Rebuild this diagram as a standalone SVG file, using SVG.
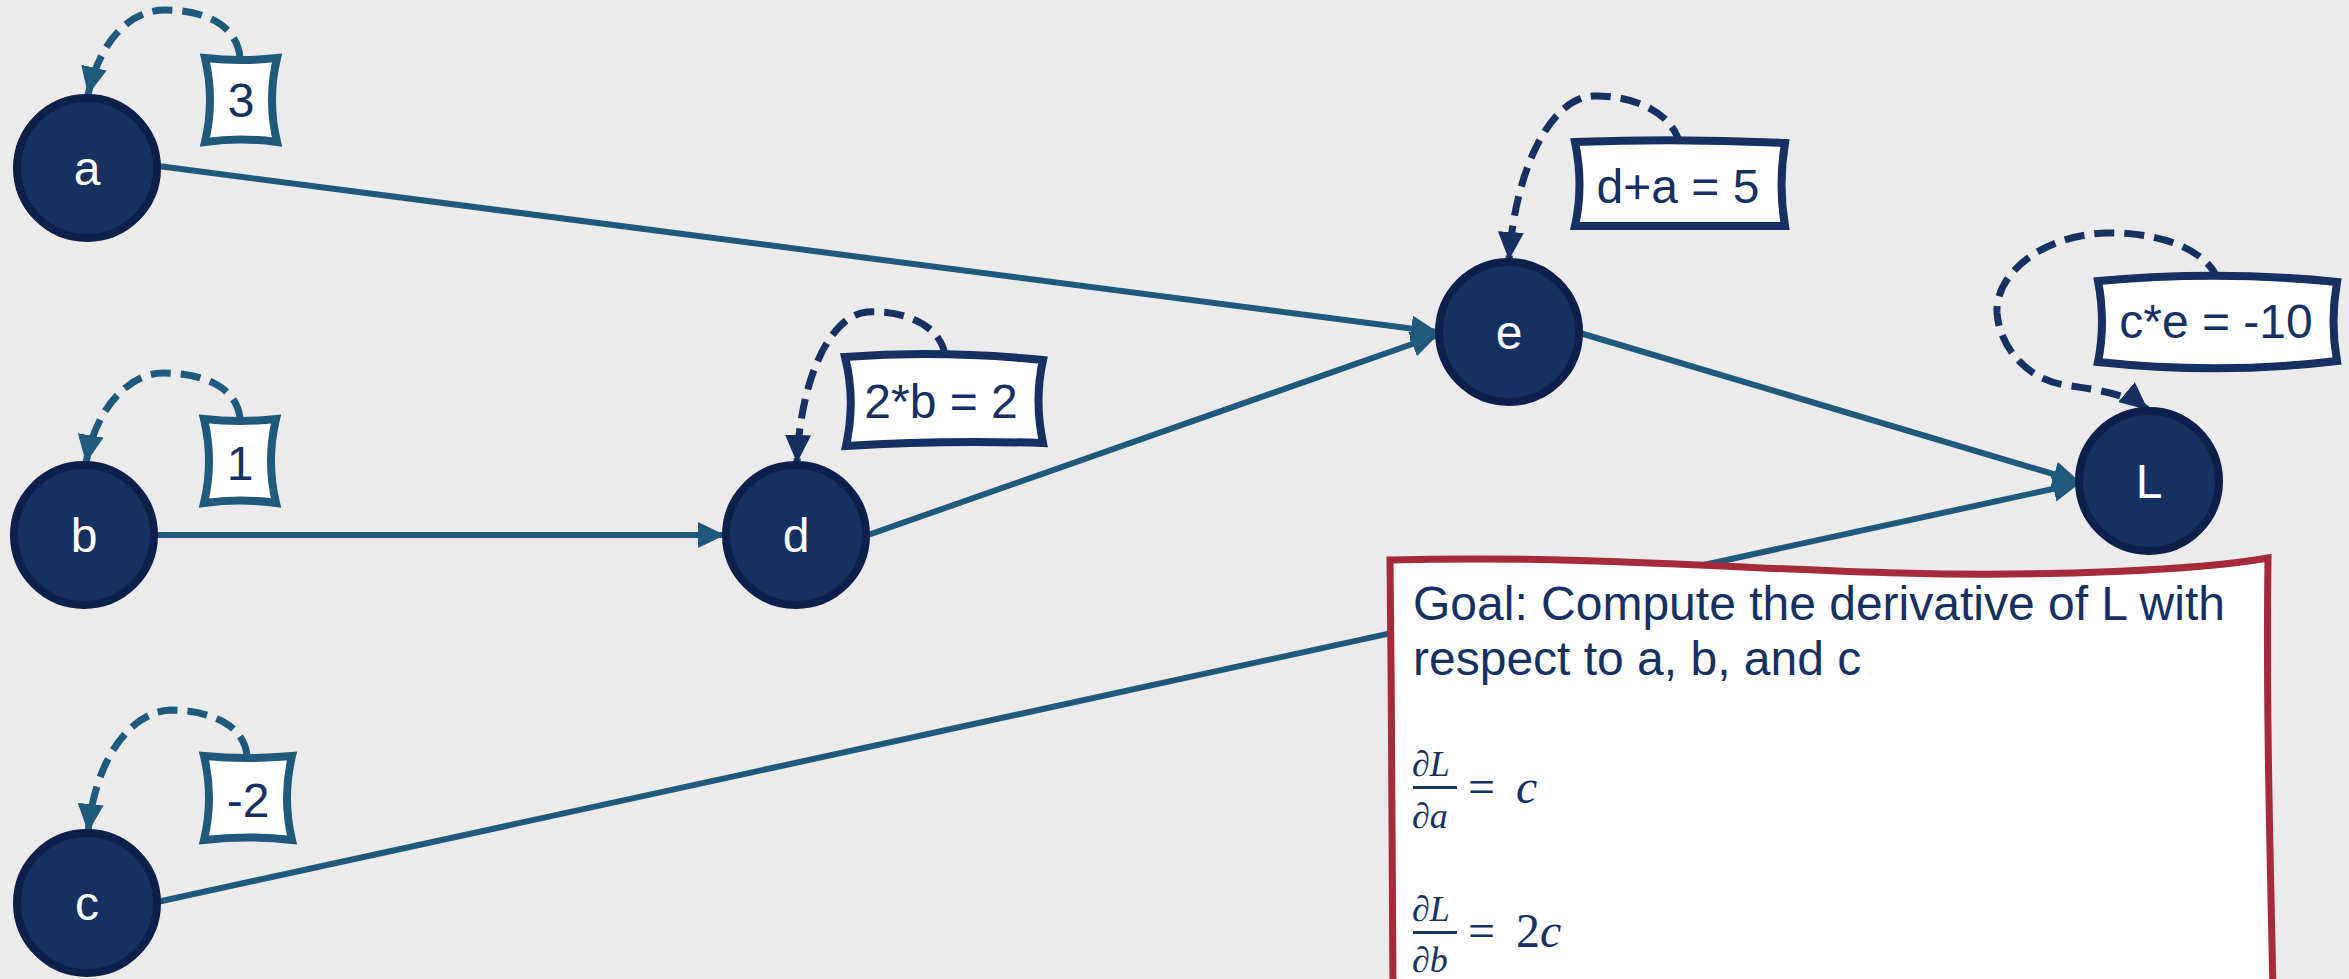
<svg xmlns="http://www.w3.org/2000/svg" width="2349" height="979" viewBox="0 0 2349 979">
<defs>
<style>
.node circle{fill:#163062;stroke:#0d1f4b;stroke-width:8}
.node text{font-family:"Liberation Sans",Arial,sans-serif;font-size:48px;fill:#ffffff;text-anchor:middle}
.edge{stroke:#1f5a7c;stroke-width:6;fill:none;marker-end:url(#ah)}
.dashT{stroke:#1f5a7c;stroke-width:7;fill:none;stroke-dasharray:20 10;marker-end:url(#ahT)}
.dashN{stroke:#163062;stroke-width:7;fill:none;stroke-dasharray:20 10;marker-end:url(#ahN)}
.boxT{fill:#ffffff;stroke:#1f5a7c;stroke-width:8}
.boxN{fill:#ffffff;stroke:#163062;stroke-width:8}
.val{font-family:"Liberation Sans",Arial,sans-serif;font-size:48px;fill:#163062;text-anchor:middle}
.goal{font-family:"Liberation Sans",Arial,sans-serif;font-size:48px;fill:#163062}
.math{font-family:"Liberation Serif","DejaVu Serif",serif;font-style:italic;fill:#163062}
.mathn{font-family:"Liberation Serif","DejaVu Serif",serif;fill:#163062}
</style>
<marker id="ah" markerUnits="userSpaceOnUse" markerWidth="30" markerHeight="30" refX="27" refY="13" orient="auto"><path d="M0,0 L27,13 L0,26 Z" fill="#1f5a7c"/></marker>
<marker id="ahT" markerUnits="userSpaceOnUse" markerWidth="30" markerHeight="30" refX="28" refY="13" orient="auto"><path d="M0,0 L28,13 L0,26 Z" fill="#1f5a7c"/></marker>
<marker id="ahN" markerUnits="userSpaceOnUse" markerWidth="30" markerHeight="30" refX="28" refY="13" orient="auto"><path d="M0,0 L28,13 L0,26 Z" fill="#163062"/></marker>
</defs>
<rect width="2349" height="979" fill="#ebebeb"/>

<g id="connectors">
<path class="edge" d="M158,166 L1438,332"/>
<path class="edge" d="M157,535 L725,535"/>
<path class="edge" d="M868,535 L1438,335"/>
<path class="edge" d="M1580,333 L2080,482"/>
<path class="edge" d="M157,902 L2080,483"/>
<path class="dashT" d="M240,57 C236,22 200,10 165,10 C130,10 100,40 88,95"/>
<path class="dashT" d="M240,418 C236,385 200,373 163,373 C128,373 95,410 86,463"/>
<path class="dashT" d="M247,755 C243,722 205,710 170,710 C130,712 95,760 88,832"/>
<path class="dashN" d="M945,355 C940,325 905,310 867,312 C830,315 800,380 797,463"/>
<path class="dashN" d="M1680,145 C1672,110 1630,95 1593,96 C1550,98 1515,170 1509,260"/>
<path class="dashN" d="M2218,280 C2205,245 2150,232 2107,233 C2040,235 1995,275 1997,313 C2000,350 2030,380 2065,385 C2100,390 2130,395 2148,410"/>
</g>

<g id="node-a" class="node"><circle cx="87" cy="168" r="70"/><text x="87" y="185">a</text></g>
<g id="node-b" class="node"><circle cx="84" cy="535" r="70"/><text x="84" y="552">b</text></g>
<g id="node-c" class="node"><circle cx="87" cy="903" r="70"/><text x="87" y="920">c</text></g>
<g id="node-d" class="node"><circle cx="796" cy="535" r="70"/><text x="796" y="552">d</text></g>
<g id="node-e" class="node"><circle cx="1509" cy="332" r="70"/><text x="1509" y="349">e</text></g>
<g id="node-L" class="node"><circle cx="2149" cy="481" r="70"/><text x="2149" y="498">L</text></g>

<g id="val-a"><path class="boxT" d="M205,58 Q241,62 277,58 Q267,100 277,142 Q241,137 205,142 Q215,100 205,58 Z"/><text class="val" x="241" y="117">3</text></g>
<g id="val-b"><path class="boxT" d="M204,419 Q240,423 276,419 Q266,461 276,503 Q240,498 204,503 Q214,461 204,419 Z"/><text class="val" x="240" y="480">1</text></g>
<g id="val-c"><path class="boxT" d="M204,756 Q248,760 292,756 Q282,798 292,840 Q248,835 204,840 Q214,798 204,756 Z"/><text class="val" x="248" y="817">-2</text></g>
<g id="val-d"><path class="boxN" d="M845,357 Q940,350 1043,360 Q1034,400 1043,443 Q940,440 846,446 Q856,400 845,357 Z"/><text class="val" x="941" y="418">2*b = 2</text></g>
<g id="val-e"><path class="boxN" d="M1575,142 Q1680,138 1785,143 Q1778,185 1785,226 Q1680,226 1575,226 Q1584,185 1575,142 Z"/><text class="val" x="1678" y="203">d+a = 5</text></g>
<g id="val-L"><path class="boxN" d="M2098,281 Q2220,270 2337,282 Q2330,322 2337,361 Q2220,375 2098,362 Q2106,322 2098,281 Z"/><text class="val" x="2216" y="338">c*e = -10</text></g>

<g id="goal">
<path d="M1393,562 C1600,558 1750,572 1900,576 C2050,580 2200,572 2266,562 L2272,990 L1394,990 Z" fill="#ffffff"/>
<path d="M1393,990 C1391,800 1392,700 1390,560 C1600,555 1750,570 1900,573 C2050,577 2200,570 2268,558 C2266,700 2270,850 2273,990" fill="none" stroke="#a52a3a" stroke-width="7"/>
<text class="goal" x="1413" y="620">Goal: Compute the derivative of L with</text>
<text class="goal" x="1413" y="675">respect to a, b, and c</text>
<text class="math" font-size="36" x="1412" y="776">∂L</text>
<rect x="1413" y="786" width="44" height="3" fill="#163062"/>
<text class="math" font-size="36" x="1412" y="828">∂a</text>
<text class="mathn" font-size="48" x="1468" y="803">=</text>
<text class="math" font-size="48" x="1516" y="803">c</text>
<text class="math" font-size="36" x="1412" y="921">∂L</text>
<rect x="1413" y="931" width="44" height="3" fill="#163062"/>
<text class="math" font-size="36" x="1412" y="972">∂b</text>
<text class="mathn" font-size="48" x="1468" y="947">=</text>
<text class="mathn" font-size="48" x="1516" y="947">2<tspan class="math">c</tspan></text>
</g>
</svg>
